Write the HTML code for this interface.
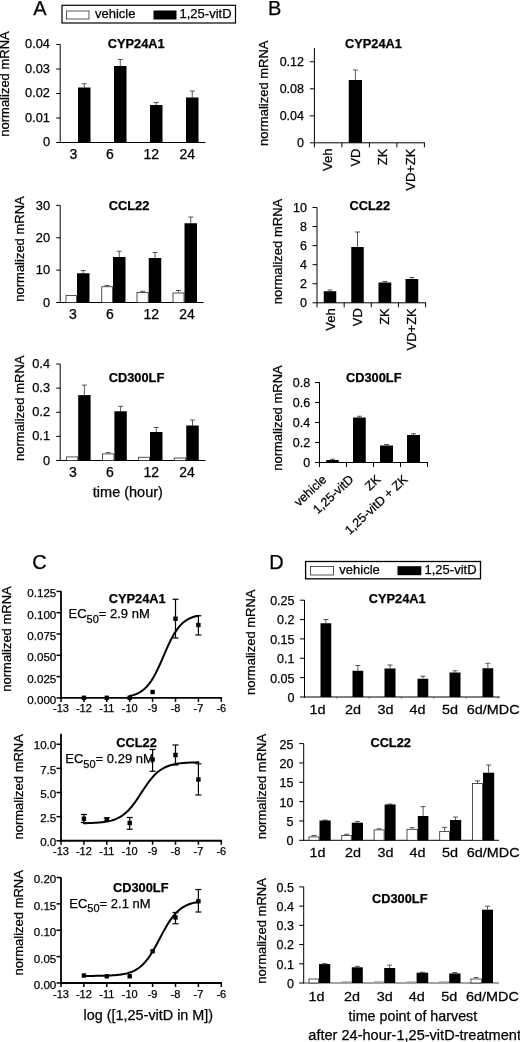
<!DOCTYPE html>
<html><head><meta charset="utf-8"><title>Figure</title>
<style>
html,body{margin:0;padding:0;background:#fff;}
body{width:520px;height:1042px;overflow:hidden;font-family:"Liberation Sans",sans-serif;}
svg{display:block;will-change:transform;}
svg text{font-family:"Liberation Sans",sans-serif;fill:#000;stroke:#000;stroke-width:0.25px;}
</style></head>
<body>
<svg width="520" height="1042" viewBox="0 0 520 1042">
<rect x="0" y="0" width="520" height="1042" fill="#fff"/>
<text x="33.3" y="14.5" font-size="20" text-anchor="start" >A</text>
<rect x="62.00" y="5.30" width="173.50" height="17.70" fill="none" stroke="#000" stroke-width="1.2"/>
<rect x="66.50" y="11.00" width="22.50" height="8.00" fill="#fff" stroke="#444" stroke-width="0.9"/>
<text x="95" y="18.2" font-size="13" text-anchor="start" >vehicle</text>
<rect x="153.50" y="10.50" width="23.00" height="9.00" fill="#000"/>
<text x="179.5" y="18.3" font-size="13" text-anchor="start" >1,25-vitD</text>
<line x1="60.2" y1="44.5" x2="60.2" y2="143.0" stroke="#000" stroke-width="1"/>
<line x1="59.7" y1="142.5" x2="205.5" y2="142.5" stroke="#000" stroke-width="1"/>
<line x1="56.2" y1="44.5" x2="60.2" y2="44.5" stroke="#000" stroke-width="1"/>
<text x="50.0" y="48.1" font-size="12.8" text-anchor="end" >0.04</text>
<line x1="56.2" y1="69.0" x2="60.2" y2="69.0" stroke="#000" stroke-width="1"/>
<text x="50.0" y="72.6" font-size="12.8" text-anchor="end" >0.03</text>
<line x1="56.2" y1="93.5" x2="60.2" y2="93.5" stroke="#000" stroke-width="1"/>
<text x="50.0" y="97.1" font-size="12.8" text-anchor="end" >0.02</text>
<line x1="56.2" y1="118.0" x2="60.2" y2="118.0" stroke="#000" stroke-width="1"/>
<text x="50.0" y="121.6" font-size="12.8" text-anchor="end" >0.01</text>
<line x1="56.2" y1="142.5" x2="60.2" y2="142.5" stroke="#000" stroke-width="1"/>
<text x="50.0" y="146.1" font-size="12.8" text-anchor="end" >0</text>
<text x="107.8" y="48.2" font-size="12.8" text-anchor="start" font-weight="bold" >CYP24A1</text>
<text x="4.8" y="84" font-size="13" text-anchor="middle" transform="rotate(-90 4.8 84)" dy="4.65">normalized mRNA</text>
<line x1="84.25" y1="83.75" x2="84.25" y2="87.5" stroke="#3a3a3a" stroke-width="0.85"/>
<line x1="81.75" y1="83.75" x2="86.75" y2="83.75" stroke="#3a3a3a" stroke-width="0.85"/>
<rect x="78.00" y="87.50" width="12.50" height="55.00" fill="#000"/>
<line x1="120.25" y1="59.5" x2="120.25" y2="66" stroke="#3a3a3a" stroke-width="0.85"/>
<line x1="117.75" y1="59.5" x2="122.75" y2="59.5" stroke="#3a3a3a" stroke-width="0.85"/>
<rect x="114.00" y="66.00" width="12.50" height="76.50" fill="#000"/>
<line x1="156.25" y1="102.5" x2="156.25" y2="105" stroke="#3a3a3a" stroke-width="0.85"/>
<line x1="153.75" y1="102.5" x2="158.75" y2="102.5" stroke="#3a3a3a" stroke-width="0.85"/>
<rect x="150.00" y="105.00" width="12.50" height="37.50" fill="#000"/>
<line x1="192.25" y1="91" x2="192.25" y2="97.5" stroke="#3a3a3a" stroke-width="0.85"/>
<line x1="189.75" y1="91" x2="194.75" y2="91" stroke="#3a3a3a" stroke-width="0.85"/>
<rect x="186.00" y="97.50" width="12.50" height="45.00" fill="#000"/>
<text x="73.5" y="158.7" font-size="14" text-anchor="middle" >3</text>
<text x="110" y="158.7" font-size="14" text-anchor="middle" >6</text>
<text x="151.3" y="158.7" font-size="14" text-anchor="middle" >12</text>
<text x="187.3" y="158.7" font-size="14" text-anchor="middle" >24</text>
<line x1="60.2" y1="205.4" x2="60.2" y2="303.0" stroke="#000" stroke-width="1"/>
<line x1="59.7" y1="302.5" x2="203.5" y2="302.5" stroke="#000" stroke-width="1"/>
<line x1="56.2" y1="205.4" x2="60.2" y2="205.4" stroke="#000" stroke-width="1"/>
<text x="50.0" y="209.70000000000002" font-size="12.8" text-anchor="end" >30</text>
<line x1="56.2" y1="237.76666666666668" x2="60.2" y2="237.76666666666668" stroke="#000" stroke-width="1"/>
<text x="50.0" y="242.0666666666667" font-size="12.8" text-anchor="end" >20</text>
<line x1="56.2" y1="270.1333333333333" x2="60.2" y2="270.1333333333333" stroke="#000" stroke-width="1"/>
<text x="50.0" y="274.43333333333334" font-size="12.8" text-anchor="end" >10</text>
<line x1="56.2" y1="302.5" x2="60.2" y2="302.5" stroke="#000" stroke-width="1"/>
<text x="50.0" y="306.8" font-size="12.8" text-anchor="end" >0</text>
<text x="108.75" y="210" font-size="12.8" text-anchor="start" font-weight="bold" >CCL22</text>
<text x="19.2" y="249" font-size="13" text-anchor="middle" transform="rotate(-90 19.2 249)" dy="4.65">normalized mRNA</text>
<rect x="66.00" y="295.50" width="10.50" height="7.00" fill="#fff" stroke="#2a2a2a" stroke-width="0.8"/>
<line x1="83.25" y1="270.5" x2="83.25" y2="273.25" stroke="#3a3a3a" stroke-width="0.85"/>
<line x1="80.75" y1="270.5" x2="85.75" y2="270.5" stroke="#3a3a3a" stroke-width="0.85"/>
<rect x="77.00" y="273.25" width="12.50" height="29.25" fill="#000"/>
<line x1="107.125" y1="285.5" x2="107.125" y2="286.25" stroke="#3a3a3a" stroke-width="0.85"/>
<line x1="104.625" y1="285.5" x2="109.625" y2="285.5" stroke="#3a3a3a" stroke-width="0.85"/>
<rect x="101.75" y="286.75" width="10.75" height="15.75" fill="#fff" stroke="#2a2a2a" stroke-width="0.8"/>
<line x1="119.25" y1="251.25" x2="119.25" y2="257" stroke="#3a3a3a" stroke-width="0.85"/>
<line x1="116.75" y1="251.25" x2="121.75" y2="251.25" stroke="#3a3a3a" stroke-width="0.85"/>
<rect x="113.00" y="257.00" width="12.50" height="45.50" fill="#000"/>
<line x1="142.625" y1="291.3" x2="142.625" y2="292" stroke="#3a3a3a" stroke-width="0.85"/>
<line x1="140.125" y1="291.3" x2="145.125" y2="291.3" stroke="#3a3a3a" stroke-width="0.85"/>
<rect x="137.00" y="292.50" width="11.25" height="10.00" fill="#fff" stroke="#2a2a2a" stroke-width="0.8"/>
<line x1="155.0" y1="252.5" x2="155.0" y2="258" stroke="#3a3a3a" stroke-width="0.85"/>
<line x1="152.5" y1="252.5" x2="157.5" y2="252.5" stroke="#3a3a3a" stroke-width="0.85"/>
<rect x="148.75" y="258.00" width="12.50" height="44.50" fill="#000"/>
<line x1="178.5" y1="290.5" x2="178.5" y2="292.5" stroke="#3a3a3a" stroke-width="0.85"/>
<line x1="176.0" y1="290.5" x2="181.0" y2="290.5" stroke="#3a3a3a" stroke-width="0.85"/>
<rect x="173.00" y="293.00" width="11.00" height="9.50" fill="#fff" stroke="#2a2a2a" stroke-width="0.8"/>
<line x1="190.75" y1="217" x2="190.75" y2="223.25" stroke="#3a3a3a" stroke-width="0.85"/>
<line x1="188.25" y1="217" x2="193.25" y2="217" stroke="#3a3a3a" stroke-width="0.85"/>
<rect x="184.50" y="223.25" width="12.50" height="79.25" fill="#000"/>
<text x="73" y="318.5" font-size="14" text-anchor="middle" >3</text>
<text x="110" y="318.5" font-size="14" text-anchor="middle" >6</text>
<text x="151.25" y="318.5" font-size="14" text-anchor="middle" >12</text>
<text x="187" y="318.5" font-size="14" text-anchor="middle" >24</text>
<line x1="60.2" y1="364" x2="60.2" y2="461.0" stroke="#000" stroke-width="1"/>
<line x1="59.7" y1="460.5" x2="205.5" y2="460.5" stroke="#000" stroke-width="1"/>
<line x1="56.2" y1="364.0" x2="60.2" y2="364.0" stroke="#000" stroke-width="1"/>
<text x="50.0" y="368.0" font-size="12.8" text-anchor="end" >0.4</text>
<line x1="56.2" y1="388.125" x2="60.2" y2="388.125" stroke="#000" stroke-width="1"/>
<text x="50.0" y="392.125" font-size="12.8" text-anchor="end" >0.3</text>
<line x1="56.2" y1="412.25" x2="60.2" y2="412.25" stroke="#000" stroke-width="1"/>
<text x="50.0" y="416.25" font-size="12.8" text-anchor="end" >0.2</text>
<line x1="56.2" y1="436.375" x2="60.2" y2="436.375" stroke="#000" stroke-width="1"/>
<text x="50.0" y="440.375" font-size="12.8" text-anchor="end" >0.1</text>
<line x1="56.2" y1="460.5" x2="60.2" y2="460.5" stroke="#000" stroke-width="1"/>
<text x="50.0" y="464.5" font-size="12.8" text-anchor="end" >0</text>
<text x="108.75" y="382" font-size="12.8" text-anchor="start" font-weight="bold" >CD300LF</text>
<text x="19.3" y="408.3" font-size="13" text-anchor="middle" transform="rotate(-90 19.3 408.3)" dy="4.65">normalized mRNA</text>
<rect x="66.60" y="456.90" width="11.10" height="3.60" fill="#fff" stroke="#2a2a2a" stroke-width="0.8"/>
<line x1="84.4" y1="385.1" x2="84.4" y2="395.1" stroke="#3a3a3a" stroke-width="0.85"/>
<line x1="81.9" y1="385.1" x2="86.9" y2="385.1" stroke="#3a3a3a" stroke-width="0.85"/>
<rect x="78.20" y="395.10" width="12.40" height="65.40" fill="#000"/>
<line x1="108.2" y1="452.6" x2="108.2" y2="453.4" stroke="#3a3a3a" stroke-width="0.85"/>
<line x1="105.7" y1="452.6" x2="110.7" y2="452.6" stroke="#3a3a3a" stroke-width="0.85"/>
<rect x="102.50" y="453.90" width="11.40" height="6.60" fill="#fff" stroke="#2a2a2a" stroke-width="0.8"/>
<line x1="120.6" y1="406.3" x2="120.6" y2="411.3" stroke="#3a3a3a" stroke-width="0.85"/>
<line x1="118.1" y1="406.3" x2="123.1" y2="406.3" stroke="#3a3a3a" stroke-width="0.85"/>
<rect x="114.40" y="411.30" width="12.40" height="49.20" fill="#000"/>
<rect x="138.50" y="457.25" width="11.00" height="3.25" fill="#fff" stroke="#2a2a2a" stroke-width="0.8"/>
<line x1="156.25" y1="427.5" x2="156.25" y2="432" stroke="#3a3a3a" stroke-width="0.85"/>
<line x1="153.75" y1="427.5" x2="158.75" y2="427.5" stroke="#3a3a3a" stroke-width="0.85"/>
<rect x="150.00" y="432.00" width="12.50" height="28.50" fill="#000"/>
<rect x="174.25" y="458.00" width="11.50" height="2.50" fill="#fff" stroke="#2a2a2a" stroke-width="0.8"/>
<line x1="192.5" y1="420" x2="192.5" y2="425.5" stroke="#3a3a3a" stroke-width="0.85"/>
<line x1="190.0" y1="420" x2="195.0" y2="420" stroke="#3a3a3a" stroke-width="0.85"/>
<rect x="186.25" y="425.50" width="12.50" height="35.00" fill="#000"/>
<text x="73" y="476.7" font-size="14" text-anchor="middle" >3</text>
<text x="110" y="476.7" font-size="14" text-anchor="middle" >6</text>
<text x="151.25" y="476.7" font-size="14" text-anchor="middle" >12</text>
<text x="187" y="476.7" font-size="14" text-anchor="middle" >24</text>
<text x="92.8" y="496.7" font-size="14.5" text-anchor="start" >time (hour)</text>
<text x="268" y="14.5" font-size="20" text-anchor="start" >B</text>
<line x1="314.4" y1="48" x2="314.4" y2="147.3" stroke="#000" stroke-width="1"/>
<line x1="309.9" y1="142.8" x2="424.9" y2="142.8" stroke="#000" stroke-width="1"/>
<line x1="309.9" y1="61.8" x2="314.4" y2="61.8" stroke="#000" stroke-width="1"/>
<text x="304.0" y="66.3" font-size="12.5" text-anchor="end" >0.12</text>
<line x1="309.9" y1="88.8" x2="314.4" y2="88.8" stroke="#000" stroke-width="1"/>
<text x="304.0" y="93.3" font-size="12.5" text-anchor="end" >0.08</text>
<line x1="309.9" y1="115.80000000000001" x2="314.4" y2="115.80000000000001" stroke="#000" stroke-width="1"/>
<text x="304.0" y="120.30000000000001" font-size="12.5" text-anchor="end" >0.04</text>
<text x="304.0" y="147.3" font-size="12.5" text-anchor="end" >0</text>
<line x1="341.9" y1="142.8" x2="341.9" y2="147.3" stroke="#000" stroke-width="1"/>
<line x1="369.4" y1="142.8" x2="369.4" y2="147.3" stroke="#000" stroke-width="1"/>
<line x1="396.9" y1="142.8" x2="396.9" y2="147.3" stroke="#000" stroke-width="1"/>
<line x1="424.4" y1="142.8" x2="424.4" y2="147.3" stroke="#000" stroke-width="1"/>
<text x="345" y="48" font-size="12.8" text-anchor="start" font-weight="bold" >CYP24A1</text>
<text x="263.5" y="93.2" font-size="13" text-anchor="middle" transform="rotate(-90 263.5 93.2)" dy="4.65">normalized mRNA</text>
<line x1="355.375" y1="70" x2="355.375" y2="80" stroke="#3a3a3a" stroke-width="0.85"/>
<line x1="352.875" y1="70" x2="357.875" y2="70" stroke="#3a3a3a" stroke-width="0.85"/>
<rect x="348.75" y="80.00" width="13.25" height="62.80" fill="#000"/>
<text x="327.45" y="148.5" font-size="13" text-anchor="end" transform="rotate(-90 327.45 148.5)" dy="4.65">Veh</text>
<text x="354.95" y="148.5" font-size="13" text-anchor="end" transform="rotate(-90 354.95 148.5)" dy="4.65">VD</text>
<text x="382.45" y="148.5" font-size="13" text-anchor="end" transform="rotate(-90 382.45 148.5)" dy="4.65">ZK</text>
<text x="409.95" y="148.5" font-size="13" text-anchor="end" transform="rotate(-90 409.95 148.5)" dy="4.65">VD+ZK</text>
<line x1="317" y1="207.5" x2="317" y2="307.3" stroke="#000" stroke-width="1"/>
<line x1="312.5" y1="302.8" x2="426.1" y2="302.8" stroke="#000" stroke-width="1"/>
<line x1="312.5" y1="207.5" x2="317" y2="207.5" stroke="#000" stroke-width="1"/>
<text x="307.0" y="212.0" font-size="12.5" text-anchor="end" >10</text>
<line x1="312.5" y1="226.56" x2="317" y2="226.56" stroke="#000" stroke-width="1"/>
<text x="307.0" y="231.06" font-size="12.5" text-anchor="end" >8</text>
<line x1="312.5" y1="245.62" x2="317" y2="245.62" stroke="#000" stroke-width="1"/>
<text x="307.0" y="250.12" font-size="12.5" text-anchor="end" >6</text>
<line x1="312.5" y1="264.68" x2="317" y2="264.68" stroke="#000" stroke-width="1"/>
<text x="307.0" y="269.18" font-size="12.5" text-anchor="end" >4</text>
<line x1="312.5" y1="283.74" x2="317" y2="283.74" stroke="#000" stroke-width="1"/>
<text x="307.0" y="288.24" font-size="12.5" text-anchor="end" >2</text>
<text x="307.0" y="307.3" font-size="12.5" text-anchor="end" >0</text>
<line x1="344.15" y1="302.8" x2="344.15" y2="307.3" stroke="#000" stroke-width="1"/>
<line x1="371.3" y1="302.8" x2="371.3" y2="307.3" stroke="#000" stroke-width="1"/>
<line x1="398.45" y1="302.8" x2="398.45" y2="307.3" stroke="#000" stroke-width="1"/>
<line x1="425.6" y1="302.8" x2="425.6" y2="307.3" stroke="#000" stroke-width="1"/>
<text x="349.5" y="210" font-size="12.8" text-anchor="start" font-weight="bold" >CCL22</text>
<text x="277.8" y="251.5" font-size="13" text-anchor="middle" transform="rotate(-90 277.8 251.5)" dy="4.65">normalized mRNA</text>
<line x1="330.0" y1="290" x2="330.0" y2="291.25" stroke="#3a3a3a" stroke-width="0.85"/>
<line x1="327.5" y1="290" x2="332.5" y2="290" stroke="#3a3a3a" stroke-width="0.85"/>
<rect x="323.75" y="291.25" width="12.50" height="11.55" fill="#000"/>
<line x1="357.5" y1="232" x2="357.5" y2="247" stroke="#3a3a3a" stroke-width="0.85"/>
<line x1="355.0" y1="232" x2="360.0" y2="232" stroke="#3a3a3a" stroke-width="0.85"/>
<rect x="351.25" y="247.00" width="12.50" height="55.80" fill="#000"/>
<line x1="384.875" y1="281.5" x2="384.875" y2="282.5" stroke="#3a3a3a" stroke-width="0.85"/>
<line x1="382.375" y1="281.5" x2="387.375" y2="281.5" stroke="#3a3a3a" stroke-width="0.85"/>
<rect x="378.50" y="282.50" width="12.75" height="20.30" fill="#000"/>
<line x1="411.875" y1="277.5" x2="411.875" y2="279" stroke="#3a3a3a" stroke-width="0.85"/>
<line x1="409.375" y1="277.5" x2="414.375" y2="277.5" stroke="#3a3a3a" stroke-width="0.85"/>
<rect x="405.50" y="279.00" width="12.75" height="23.80" fill="#000"/>
<text x="330.27" y="308.2" font-size="13" text-anchor="end" transform="rotate(-90 330.27 308.2)" dy="4.65">Veh</text>
<text x="357.43" y="308.2" font-size="13" text-anchor="end" transform="rotate(-90 357.43 308.2)" dy="4.65">VD</text>
<text x="384.57" y="308.2" font-size="13" text-anchor="end" transform="rotate(-90 384.57 308.2)" dy="4.65">ZK</text>
<text x="411.72" y="308.2" font-size="13" text-anchor="end" transform="rotate(-90 411.72 308.2)" dy="4.65">VD+ZK</text>
<line x1="319.5" y1="382" x2="319.5" y2="467.0" stroke="#000" stroke-width="1"/>
<line x1="315.0" y1="462.5" x2="428.0" y2="462.5" stroke="#000" stroke-width="1"/>
<line x1="315.0" y1="382.5" x2="319.5" y2="382.5" stroke="#000" stroke-width="1"/>
<text x="310.2" y="387.0" font-size="12.5" text-anchor="end" >0.8</text>
<line x1="315.0" y1="402.5" x2="319.5" y2="402.5" stroke="#000" stroke-width="1"/>
<text x="310.2" y="407.0" font-size="12.5" text-anchor="end" >0.6</text>
<line x1="315.0" y1="422.5" x2="319.5" y2="422.5" stroke="#000" stroke-width="1"/>
<text x="310.2" y="427.0" font-size="12.5" text-anchor="end" >0.4</text>
<line x1="315.0" y1="442.5" x2="319.5" y2="442.5" stroke="#000" stroke-width="1"/>
<text x="310.2" y="447.0" font-size="12.5" text-anchor="end" >0.2</text>
<text x="310.2" y="467.0" font-size="12.5" text-anchor="end" >0</text>
<line x1="346.5" y1="462.5" x2="346.5" y2="467.0" stroke="#000" stroke-width="1"/>
<line x1="373.5" y1="462.5" x2="373.5" y2="467.0" stroke="#000" stroke-width="1"/>
<line x1="400.5" y1="462.5" x2="400.5" y2="467.0" stroke="#000" stroke-width="1"/>
<line x1="427.5" y1="462.5" x2="427.5" y2="467.0" stroke="#000" stroke-width="1"/>
<text x="346" y="381.5" font-size="12.8" text-anchor="start" font-weight="bold" >CD300LF</text>
<text x="277.4" y="418" font-size="13" text-anchor="middle" transform="rotate(-90 277.4 418)" dy="4.65">normalized mRNA</text>
<line x1="332.5" y1="459.2" x2="332.5" y2="460" stroke="#3a3a3a" stroke-width="0.85"/>
<line x1="330.0" y1="459.2" x2="335.0" y2="459.2" stroke="#3a3a3a" stroke-width="0.85"/>
<rect x="326.25" y="460.00" width="12.50" height="2.50" fill="#000"/>
<line x1="359.375" y1="416.25" x2="359.375" y2="417.5" stroke="#3a3a3a" stroke-width="0.85"/>
<line x1="356.875" y1="416.25" x2="361.875" y2="416.25" stroke="#3a3a3a" stroke-width="0.85"/>
<rect x="353.00" y="417.50" width="12.75" height="45.00" fill="#000"/>
<line x1="386.5" y1="444.5" x2="386.5" y2="445.5" stroke="#3a3a3a" stroke-width="0.85"/>
<line x1="384.0" y1="444.5" x2="389.0" y2="444.5" stroke="#3a3a3a" stroke-width="0.85"/>
<rect x="380.00" y="445.50" width="13.00" height="17.00" fill="#000"/>
<line x1="413.5" y1="433.75" x2="413.5" y2="435" stroke="#3a3a3a" stroke-width="0.85"/>
<line x1="411.0" y1="433.75" x2="416.0" y2="433.75" stroke="#3a3a3a" stroke-width="0.85"/>
<rect x="407.00" y="435.00" width="13.00" height="27.50" fill="#000"/>
<text x="324.20" y="477" font-size="12.5" text-anchor="end" transform="rotate(-43 324.20 477)" dy="4.65">vehicle</text>
<text x="351.20" y="477" font-size="12.5" text-anchor="end" transform="rotate(-43 351.20 477)" dy="4.65">1,25-vitD</text>
<text x="378.20" y="477" font-size="12.5" text-anchor="end" transform="rotate(-43 378.20 477)" dy="4.65">ZK</text>
<text x="405.20" y="477" font-size="12.5" text-anchor="end" transform="rotate(-43 405.20 477)" dy="4.65">1,25-vitD + ZK</text>
<text x="32.3" y="569.3" font-size="20" text-anchor="start" >C</text>
<line x1="61.0" y1="591" x2="61.0" y2="698.6999999999999" stroke="#000" stroke-width="1.8"/>
<line x1="60.1" y1="697.9" x2="221.99999999999997" y2="697.9" stroke="#000" stroke-width="1.8"/>
<line x1="56.5" y1="591.4" x2="61.0" y2="591.4" stroke="#000" stroke-width="1.5"/>
<text x="56.3" y="597.3" font-size="11.6" text-anchor="end" >0.125</text>
<line x1="56.5" y1="612.6999999999999" x2="61.0" y2="612.6999999999999" stroke="#000" stroke-width="1.5"/>
<text x="56.3" y="618.5999999999999" font-size="11.6" text-anchor="end" >0.100</text>
<line x1="56.5" y1="634.0" x2="61.0" y2="634.0" stroke="#000" stroke-width="1.5"/>
<text x="56.3" y="639.9" font-size="11.6" text-anchor="end" >0.075</text>
<line x1="56.5" y1="655.3" x2="61.0" y2="655.3" stroke="#000" stroke-width="1.5"/>
<text x="56.3" y="661.1999999999999" font-size="11.6" text-anchor="end" >0.050</text>
<line x1="56.5" y1="676.6" x2="61.0" y2="676.6" stroke="#000" stroke-width="1.5"/>
<text x="56.3" y="682.5" font-size="11.6" text-anchor="end" >0.025</text>
<line x1="56.5" y1="697.9" x2="61.0" y2="697.9" stroke="#000" stroke-width="1.5"/>
<text x="56.3" y="703.8" font-size="11.6" text-anchor="end" >0.000</text>
<line x1="61.0" y1="697.9" x2="61.0" y2="701.9" stroke="#000" stroke-width="1.5"/>
<text x="61.0" y="712" font-size="11" text-anchor="middle" >-13</text>
<line x1="83.9" y1="697.9" x2="83.9" y2="701.9" stroke="#000" stroke-width="1.5"/>
<text x="83.9" y="712" font-size="11" text-anchor="middle" >-12</text>
<line x1="106.8" y1="697.9" x2="106.8" y2="701.9" stroke="#000" stroke-width="1.5"/>
<text x="106.8" y="712" font-size="11" text-anchor="middle" >-11</text>
<line x1="129.7" y1="697.9" x2="129.7" y2="701.9" stroke="#000" stroke-width="1.5"/>
<text x="129.7" y="712" font-size="11" text-anchor="middle" >-10</text>
<line x1="152.6" y1="697.9" x2="152.6" y2="701.9" stroke="#000" stroke-width="1.5"/>
<text x="152.6" y="712" font-size="11" text-anchor="middle" >-9</text>
<line x1="175.5" y1="697.9" x2="175.5" y2="701.9" stroke="#000" stroke-width="1.5"/>
<text x="175.5" y="712" font-size="11" text-anchor="middle" >-8</text>
<line x1="198.39999999999998" y1="697.9" x2="198.39999999999998" y2="701.9" stroke="#000" stroke-width="1.5"/>
<text x="198.39999999999998" y="712" font-size="11" text-anchor="middle" >-7</text>
<line x1="221.29999999999998" y1="697.9" x2="221.29999999999998" y2="701.9" stroke="#000" stroke-width="1.5"/>
<text x="221.29999999999998" y="712" font-size="11" text-anchor="middle" >-6</text>
<text x="108.75" y="603" font-size="12.8" text-anchor="start" font-weight="bold" >CYP24A1</text>
<text x="6.0" y="639" font-size="13" text-anchor="middle" transform="rotate(-90 6.0 639)" dy="4.65">normalized mRNA</text>
<text x="68.5" y="618" font-size="13">EC<tspan font-size="11" dy="4.5">50</tspan><tspan dy="-4.5">= 2.9 nM</tspan></text>
<polyline points="129.70,695.97 130.56,695.78 131.42,695.58 132.28,695.35 133.13,695.11 133.99,694.84 134.85,694.55 135.71,694.23 136.57,693.88 137.43,693.50 138.29,693.08 139.15,692.63 140.00,692.15 140.86,691.61 141.72,691.04 142.58,690.42 143.44,689.74 144.30,689.02 145.16,688.23 146.02,687.39 146.88,686.49 147.73,685.52 148.59,684.48 149.45,683.38 150.31,682.20 151.17,680.95 152.03,679.63 152.89,678.24 153.75,676.77 154.60,675.23 155.46,673.63 156.32,671.96 157.18,670.22 158.04,668.44 158.90,666.59 159.76,664.71 160.61,662.79 161.47,660.83 162.33,658.86 163.19,656.87 164.05,654.88 164.91,652.89 165.77,650.91 166.63,648.96 167.49,647.04 168.34,645.16 169.20,643.32 170.06,641.54 170.92,639.81 171.78,638.14 172.64,636.54 173.50,635.01 174.35,633.55 175.21,632.16 176.07,630.84 176.93,629.60 177.79,628.43 178.65,627.33 179.51,626.29 180.37,625.33 181.22,624.43 182.08,623.59 182.94,622.81 183.80,622.09 184.66,621.42 185.52,620.80 186.38,620.23 187.24,619.70 188.09,619.21 188.95,618.77 189.81,618.35 190.67,617.98 191.53,617.63 192.39,617.31 193.25,617.02 194.11,616.75 194.96,616.51 195.82,616.29 196.68,616.08 197.54,615.90 198.40,615.73" fill="none" stroke="#000" stroke-width="2" stroke-linejoin="round" stroke-linecap="round"/>
<rect x="81.70" y="695.60" width="4.40" height="4.40" fill="#000"/>
<rect x="104.60" y="695.60" width="4.40" height="4.40" fill="#000"/>
<rect x="127.50" y="695.60" width="4.40" height="4.40" fill="#000"/>
<rect x="150.40" y="689.80" width="4.40" height="4.40" fill="#000"/>
<line x1="175.5" y1="599.25" x2="175.5" y2="638" stroke="#000" stroke-width="1.2"/>
<line x1="172.5" y1="599.25" x2="178.5" y2="599.25" stroke="#000" stroke-width="1.2"/>
<line x1="172.5" y1="638" x2="178.5" y2="638" stroke="#000" stroke-width="1.2"/>
<rect x="173.30" y="616.55" width="4.40" height="4.40" fill="#000"/>
<line x1="198.39999999999998" y1="615.75" x2="198.39999999999998" y2="635" stroke="#000" stroke-width="1.2"/>
<line x1="195.39999999999998" y1="615.75" x2="201.39999999999998" y2="615.75" stroke="#000" stroke-width="1.2"/>
<line x1="195.39999999999998" y1="635" x2="201.39999999999998" y2="635" stroke="#000" stroke-width="1.2"/>
<rect x="196.20" y="622.80" width="4.40" height="4.40" fill="#000"/>
<line x1="61.0" y1="733.75" x2="61.0" y2="841.55" stroke="#000" stroke-width="1.8"/>
<line x1="60.1" y1="840.75" x2="221.99999999999997" y2="840.75" stroke="#000" stroke-width="1.8"/>
<line x1="56.5" y1="744.25" x2="61.0" y2="744.25" stroke="#000" stroke-width="1.5"/>
<text x="56.3" y="749.45" font-size="11.6" text-anchor="end" >10.0</text>
<line x1="56.5" y1="768.375" x2="61.0" y2="768.375" stroke="#000" stroke-width="1.5"/>
<text x="56.3" y="773.575" font-size="11.6" text-anchor="end" >7.5</text>
<line x1="56.5" y1="792.5" x2="61.0" y2="792.5" stroke="#000" stroke-width="1.5"/>
<text x="56.3" y="797.7" font-size="11.6" text-anchor="end" >5.0</text>
<line x1="56.5" y1="816.625" x2="61.0" y2="816.625" stroke="#000" stroke-width="1.5"/>
<text x="56.3" y="821.825" font-size="11.6" text-anchor="end" >2.5</text>
<line x1="56.5" y1="840.75" x2="61.0" y2="840.75" stroke="#000" stroke-width="1.5"/>
<text x="56.3" y="845.95" font-size="11.6" text-anchor="end" >0.0</text>
<line x1="61.0" y1="840.75" x2="61.0" y2="844.75" stroke="#000" stroke-width="1.5"/>
<text x="61.0" y="855.3" font-size="11" text-anchor="middle" >-13</text>
<line x1="83.9" y1="840.75" x2="83.9" y2="844.75" stroke="#000" stroke-width="1.5"/>
<text x="83.9" y="855.3" font-size="11" text-anchor="middle" >-12</text>
<line x1="106.8" y1="840.75" x2="106.8" y2="844.75" stroke="#000" stroke-width="1.5"/>
<text x="106.8" y="855.3" font-size="11" text-anchor="middle" >-11</text>
<line x1="129.7" y1="840.75" x2="129.7" y2="844.75" stroke="#000" stroke-width="1.5"/>
<text x="129.7" y="855.3" font-size="11" text-anchor="middle" >-10</text>
<line x1="152.6" y1="840.75" x2="152.6" y2="844.75" stroke="#000" stroke-width="1.5"/>
<text x="152.6" y="855.3" font-size="11" text-anchor="middle" >-9</text>
<line x1="175.5" y1="840.75" x2="175.5" y2="844.75" stroke="#000" stroke-width="1.5"/>
<text x="175.5" y="855.3" font-size="11" text-anchor="middle" >-8</text>
<line x1="198.39999999999998" y1="840.75" x2="198.39999999999998" y2="844.75" stroke="#000" stroke-width="1.5"/>
<text x="198.39999999999998" y="855.3" font-size="11" text-anchor="middle" >-7</text>
<line x1="221.29999999999998" y1="840.75" x2="221.29999999999998" y2="844.75" stroke="#000" stroke-width="1.5"/>
<text x="221.29999999999998" y="855.3" font-size="11" text-anchor="middle" >-6</text>
<text x="116.25" y="747.3" font-size="12.8" text-anchor="start" font-weight="bold" >CCL22</text>
<text x="18.1" y="786.8" font-size="13" text-anchor="middle" transform="rotate(-90 18.1 786.8)" dy="4.65">normalized mRNA</text>
<text x="65.3" y="763" font-size="13">EC<tspan font-size="11" dy="4.5">50</tspan><tspan dy="-4.5">= 0.29 nM</tspan></text>
<polyline points="83.90,823.19 85.33,823.17 86.76,823.13 88.19,823.09 89.62,823.05 91.06,823.00 92.49,822.94 93.92,822.87 95.35,822.79 96.78,822.70 98.21,822.60 99.64,822.48 101.07,822.34 102.51,822.18 103.94,822.00 105.37,821.79 106.80,821.55 108.23,821.27 109.66,820.96 111.09,820.60 112.53,820.19 113.96,819.73 115.39,819.20 116.82,818.60 118.25,817.93 119.68,817.17 121.11,816.32 122.54,815.37 123.97,814.31 125.41,813.14 126.84,811.86 128.27,810.45 129.70,808.92 131.13,807.27 132.56,805.50 133.99,803.63 135.43,801.66 136.86,799.60 138.29,797.47 139.72,795.30 141.15,793.10 142.58,790.90 144.01,788.72 145.44,786.58 146.88,784.50 148.31,782.49 149.74,780.59 151.17,778.78 152.60,777.10 154.03,775.53 155.46,774.08 156.89,772.76 158.32,771.55 159.76,770.46 161.19,769.48 162.62,768.59 164.05,767.81 165.48,767.11 166.91,766.48 168.34,765.94 169.77,765.45 171.21,765.03 172.64,764.65 174.07,764.33 175.50,764.04 176.93,763.79 178.36,763.57 179.79,763.38 181.22,763.21 182.66,763.07 184.09,762.94 185.52,762.83 186.95,762.74 188.38,762.66 189.81,762.59 191.24,762.52 192.67,762.47 194.11,762.42 195.54,762.38 196.97,762.35 198.40,762.32" fill="none" stroke="#000" stroke-width="2" stroke-linejoin="round" stroke-linecap="round"/>
<line x1="83.9" y1="814.5" x2="83.9" y2="822.5" stroke="#000" stroke-width="1.2"/>
<line x1="80.9" y1="814.5" x2="86.9" y2="814.5" stroke="#000" stroke-width="1.2"/>
<line x1="80.9" y1="822.5" x2="86.9" y2="822.5" stroke="#000" stroke-width="1.2"/>
<rect x="81.70" y="816.55" width="4.40" height="4.40" fill="#000"/>
<line x1="106.8" y1="817.8" x2="106.8" y2="821.2" stroke="#000" stroke-width="1.2"/>
<line x1="103.8" y1="817.8" x2="109.8" y2="817.8" stroke="#000" stroke-width="1.2"/>
<line x1="103.8" y1="821.2" x2="109.8" y2="821.2" stroke="#000" stroke-width="1.2"/>
<rect x="104.60" y="817.30" width="4.40" height="4.40" fill="#000"/>
<line x1="129.7" y1="817.5" x2="129.7" y2="829.25" stroke="#000" stroke-width="1.2"/>
<line x1="126.69999999999999" y1="817.5" x2="132.7" y2="817.5" stroke="#000" stroke-width="1.2"/>
<line x1="126.69999999999999" y1="829.25" x2="132.7" y2="829.25" stroke="#000" stroke-width="1.2"/>
<rect x="127.50" y="820.80" width="4.40" height="4.40" fill="#000"/>
<line x1="152.6" y1="749.5" x2="152.6" y2="771.25" stroke="#000" stroke-width="1.2"/>
<line x1="149.6" y1="749.5" x2="155.6" y2="749.5" stroke="#000" stroke-width="1.2"/>
<line x1="149.6" y1="771.25" x2="155.6" y2="771.25" stroke="#000" stroke-width="1.2"/>
<rect x="150.40" y="757.30" width="4.40" height="4.40" fill="#000"/>
<line x1="175.5" y1="745" x2="175.5" y2="765" stroke="#000" stroke-width="1.2"/>
<line x1="172.5" y1="745" x2="178.5" y2="745" stroke="#000" stroke-width="1.2"/>
<line x1="172.5" y1="765" x2="178.5" y2="765" stroke="#000" stroke-width="1.2"/>
<rect x="173.30" y="752.80" width="4.40" height="4.40" fill="#000"/>
<line x1="198.39999999999998" y1="763.75" x2="198.39999999999998" y2="795" stroke="#000" stroke-width="1.2"/>
<line x1="195.39999999999998" y1="763.75" x2="201.39999999999998" y2="763.75" stroke="#000" stroke-width="1.2"/>
<line x1="195.39999999999998" y1="795" x2="201.39999999999998" y2="795" stroke="#000" stroke-width="1.2"/>
<rect x="196.20" y="777.30" width="4.40" height="4.40" fill="#000"/>
<line x1="61.0" y1="877.5" x2="61.0" y2="983.8" stroke="#000" stroke-width="1.8"/>
<line x1="60.1" y1="983" x2="221.99999999999997" y2="983" stroke="#000" stroke-width="1.8"/>
<line x1="56.5" y1="877.5" x2="61.0" y2="877.5" stroke="#000" stroke-width="1.5"/>
<text x="56.3" y="883.4" font-size="11.6" text-anchor="end" >0.20</text>
<line x1="56.5" y1="903.875" x2="61.0" y2="903.875" stroke="#000" stroke-width="1.5"/>
<text x="56.3" y="909.775" font-size="11.6" text-anchor="end" >0.15</text>
<line x1="56.5" y1="930.25" x2="61.0" y2="930.25" stroke="#000" stroke-width="1.5"/>
<text x="56.3" y="936.15" font-size="11.6" text-anchor="end" >0.10</text>
<line x1="56.5" y1="956.625" x2="61.0" y2="956.625" stroke="#000" stroke-width="1.5"/>
<text x="56.3" y="962.525" font-size="11.6" text-anchor="end" >0.05</text>
<line x1="56.5" y1="983.0" x2="61.0" y2="983.0" stroke="#000" stroke-width="1.5"/>
<text x="56.3" y="988.9" font-size="11.6" text-anchor="end" >0.00</text>
<line x1="61.0" y1="983" x2="61.0" y2="987" stroke="#000" stroke-width="1.5"/>
<text x="61.0" y="998" font-size="11" text-anchor="middle" >-13</text>
<line x1="83.9" y1="983" x2="83.9" y2="987" stroke="#000" stroke-width="1.5"/>
<text x="83.9" y="998" font-size="11" text-anchor="middle" >-12</text>
<line x1="106.8" y1="983" x2="106.8" y2="987" stroke="#000" stroke-width="1.5"/>
<text x="106.8" y="998" font-size="11" text-anchor="middle" >-11</text>
<line x1="129.7" y1="983" x2="129.7" y2="987" stroke="#000" stroke-width="1.5"/>
<text x="129.7" y="998" font-size="11" text-anchor="middle" >-10</text>
<line x1="152.6" y1="983" x2="152.6" y2="987" stroke="#000" stroke-width="1.5"/>
<text x="152.6" y="998" font-size="11" text-anchor="middle" >-9</text>
<line x1="175.5" y1="983" x2="175.5" y2="987" stroke="#000" stroke-width="1.5"/>
<text x="175.5" y="998" font-size="11" text-anchor="middle" >-8</text>
<line x1="198.39999999999998" y1="983" x2="198.39999999999998" y2="987" stroke="#000" stroke-width="1.5"/>
<text x="198.39999999999998" y="998" font-size="11" text-anchor="middle" >-7</text>
<line x1="221.29999999999998" y1="983" x2="221.29999999999998" y2="987" stroke="#000" stroke-width="1.5"/>
<text x="221.29999999999998" y="998" font-size="11" text-anchor="middle" >-6</text>
<text x="113" y="892" font-size="12.8" text-anchor="start" font-weight="bold" >CD300LF</text>
<text x="18.1" y="922.8" font-size="13" text-anchor="middle" transform="rotate(-90 18.1 922.8)" dy="4.65">normalized mRNA</text>
<text x="69.3" y="907.5" font-size="13">EC<tspan font-size="11" dy="4.5">50</tspan><tspan dy="-4.5">= 2.1 nM</tspan></text>
<polyline points="83.90,975.95 85.33,975.94 86.76,975.94 88.19,975.93 89.62,975.92 91.06,975.91 92.49,975.90 93.92,975.89 95.35,975.87 96.78,975.85 98.21,975.83 99.64,975.81 101.07,975.78 102.51,975.75 103.94,975.72 105.37,975.67 106.80,975.63 108.23,975.57 109.66,975.51 111.09,975.43 112.53,975.35 113.96,975.25 115.39,975.14 116.82,975.01 118.25,974.86 119.68,974.69 121.11,974.49 122.54,974.26 123.97,974.00 125.41,973.71 126.84,973.37 128.27,972.98 129.70,972.53 131.13,972.03 132.56,971.45 133.99,970.80 135.43,970.06 136.86,969.22 138.29,968.28 139.72,967.23 141.15,966.05 142.58,964.74 144.01,963.29 145.44,961.70 146.88,959.96 148.31,958.07 149.74,956.02 151.17,953.84 152.60,951.52 154.03,949.08 155.46,946.54 156.89,943.92 158.32,941.24 159.76,938.52 161.19,935.81 162.62,933.12 164.05,930.48 165.48,927.91 166.91,925.45 168.34,923.10 169.77,920.88 171.21,918.81 172.64,916.88 174.07,915.10 175.50,913.47 176.93,911.99 178.36,910.65 179.79,909.44 181.22,908.36 182.66,907.39 184.09,906.53 185.52,905.77 186.95,905.09 188.38,904.50 189.81,903.98 191.24,903.52 192.67,903.12 194.11,902.76 195.54,902.46 196.97,902.19 198.40,901.96" fill="none" stroke="#000" stroke-width="2" stroke-linejoin="round" stroke-linecap="round"/>
<rect x="81.70" y="973.30" width="4.40" height="4.40" fill="#000"/>
<rect x="104.60" y="974.05" width="4.40" height="4.40" fill="#000"/>
<rect x="127.50" y="974.05" width="4.40" height="4.40" fill="#000"/>
<rect x="150.40" y="949.05" width="4.40" height="4.40" fill="#000"/>
<line x1="175.5" y1="912.5" x2="175.5" y2="923.75" stroke="#000" stroke-width="1.2"/>
<line x1="172.5" y1="912.5" x2="178.5" y2="912.5" stroke="#000" stroke-width="1.2"/>
<line x1="172.5" y1="923.75" x2="178.5" y2="923.75" stroke="#000" stroke-width="1.2"/>
<rect x="173.30" y="915.30" width="4.40" height="4.40" fill="#000"/>
<line x1="198.39999999999998" y1="889.5" x2="198.39999999999998" y2="912" stroke="#000" stroke-width="1.2"/>
<line x1="195.39999999999998" y1="889.5" x2="201.39999999999998" y2="889.5" stroke="#000" stroke-width="1.2"/>
<line x1="195.39999999999998" y1="912" x2="201.39999999999998" y2="912" stroke="#000" stroke-width="1.2"/>
<rect x="196.20" y="899.05" width="4.40" height="4.40" fill="#000"/>
<text x="83.6" y="1020.1" font-size="14.4" text-anchor="start" >log ([1,25-vitD in M])</text>
<text x="269.3" y="569.3" font-size="20" text-anchor="start" >D</text>
<rect x="305.60" y="561.50" width="174.90" height="17.30" fill="none" stroke="#000" stroke-width="1.3"/>
<rect x="310.50" y="566.50" width="23.00" height="8.50" fill="#fff" stroke="#444" stroke-width="0.9"/>
<text x="339.3" y="573.9" font-size="13" text-anchor="start" >vehicle</text>
<rect x="397.50" y="566.20" width="23.80" height="9.00" fill="#000"/>
<text x="424.5" y="574.1" font-size="13" text-anchor="start" >1,25-vitD</text>
<line x1="304.5" y1="600.2" x2="304.5" y2="697.5" stroke="#000" stroke-width="1"/>
<line x1="304.0" y1="697" x2="499.79999999999995" y2="697" stroke="#000" stroke-width="1"/>
<line x1="336.8" y1="697" x2="336.8" y2="698.6" stroke="#555" stroke-width="1"/>
<line x1="369.1" y1="697" x2="369.1" y2="698.6" stroke="#555" stroke-width="1"/>
<line x1="401.4" y1="697" x2="401.4" y2="698.6" stroke="#555" stroke-width="1"/>
<line x1="433.7" y1="697" x2="433.7" y2="698.6" stroke="#555" stroke-width="1"/>
<line x1="466.0" y1="697" x2="466.0" y2="698.6" stroke="#555" stroke-width="1"/>
<line x1="498.29999999999995" y1="697" x2="498.29999999999995" y2="698.6" stroke="#555" stroke-width="1"/>
<line x1="300.0" y1="600.2" x2="304.5" y2="600.2" stroke="#000" stroke-width="1"/>
<text x="294.5" y="605.1" font-size="12.5" text-anchor="end" >0.25</text>
<line x1="300.0" y1="619.5600000000001" x2="304.5" y2="619.5600000000001" stroke="#000" stroke-width="1"/>
<text x="294.5" y="624.46" font-size="12.5" text-anchor="end" >0.2</text>
<line x1="300.0" y1="638.9200000000001" x2="304.5" y2="638.9200000000001" stroke="#000" stroke-width="1"/>
<text x="294.5" y="643.82" font-size="12.5" text-anchor="end" >0.15</text>
<line x1="300.0" y1="658.28" x2="304.5" y2="658.28" stroke="#000" stroke-width="1"/>
<text x="294.5" y="663.18" font-size="12.5" text-anchor="end" >0.1</text>
<line x1="300.0" y1="677.64" x2="304.5" y2="677.64" stroke="#000" stroke-width="1"/>
<text x="294.5" y="682.54" font-size="12.5" text-anchor="end" >0.05</text>
<line x1="300.0" y1="697.0" x2="304.5" y2="697.0" stroke="#000" stroke-width="1"/>
<text x="294.5" y="701.9" font-size="12.5" text-anchor="end" >0</text>
<text x="368.75" y="603" font-size="12.8" text-anchor="start" font-weight="bold" >CYP24A1</text>
<text x="250.8" y="642.2" font-size="13" text-anchor="middle" transform="rotate(-90 250.8 642.2)" dy="4.65">normalized mRNA</text>
<line x1="325.875" y1="619.5" x2="325.875" y2="623.25" stroke="#3a3a3a" stroke-width="0.85"/>
<line x1="323.375" y1="619.5" x2="328.375" y2="619.5" stroke="#3a3a3a" stroke-width="0.85"/>
<rect x="320.50" y="623.25" width="10.75" height="73.75" fill="#000"/>
<line x1="357.875" y1="665.5" x2="357.875" y2="670.75" stroke="#3a3a3a" stroke-width="0.85"/>
<line x1="355.375" y1="665.5" x2="360.375" y2="665.5" stroke="#3a3a3a" stroke-width="0.85"/>
<rect x="352.50" y="670.75" width="10.75" height="26.25" fill="#000"/>
<line x1="390.0" y1="665" x2="390.0" y2="668.5" stroke="#3a3a3a" stroke-width="0.85"/>
<line x1="387.5" y1="665" x2="392.5" y2="665" stroke="#3a3a3a" stroke-width="0.85"/>
<rect x="384.50" y="668.50" width="11.00" height="28.50" fill="#000"/>
<line x1="422.875" y1="676.25" x2="422.875" y2="678.75" stroke="#3a3a3a" stroke-width="0.85"/>
<line x1="420.375" y1="676.25" x2="425.375" y2="676.25" stroke="#3a3a3a" stroke-width="0.85"/>
<rect x="417.50" y="678.75" width="10.75" height="18.25" fill="#000"/>
<line x1="455.0" y1="670.75" x2="455.0" y2="672.5" stroke="#3a3a3a" stroke-width="0.85"/>
<line x1="452.5" y1="670.75" x2="457.5" y2="670.75" stroke="#3a3a3a" stroke-width="0.85"/>
<rect x="449.50" y="672.50" width="11.00" height="24.50" fill="#000"/>
<line x1="487.875" y1="663.25" x2="487.875" y2="668.25" stroke="#3a3a3a" stroke-width="0.85"/>
<line x1="485.375" y1="663.25" x2="490.375" y2="663.25" stroke="#3a3a3a" stroke-width="0.85"/>
<rect x="482.50" y="668.25" width="10.75" height="28.75" fill="#000"/>
<text x="0" y="0" font-size="13.6" text-anchor="middle" transform="translate(317.5 713.8) scale(1.06 1)" >1d</text>
<text x="0" y="0" font-size="13.6" text-anchor="middle" transform="translate(353 713.8) scale(1.06 1)" >2d</text>
<text x="0" y="0" font-size="13.6" text-anchor="middle" transform="translate(385.5 713.8) scale(1.06 1)" >3d</text>
<text x="0" y="0" font-size="13.6" text-anchor="middle" transform="translate(417.5 713.8) scale(1.06 1)" >4d</text>
<text x="0" y="0" font-size="13.6" text-anchor="middle" transform="translate(450 713.8) scale(1.06 1)" >5d</text>
<text x="0" y="0" font-size="13.6" text-anchor="start" transform="translate(466.8 713.8) scale(1.06 1)" >6d/MDC</text>
<line x1="303.7" y1="743.6" x2="303.7" y2="840.8" stroke="#000" stroke-width="1"/>
<line x1="303.2" y1="840.3" x2="499.0" y2="840.3" stroke="#000" stroke-width="1"/>
<line x1="299.2" y1="743.6" x2="303.7" y2="743.6" stroke="#000" stroke-width="1"/>
<text x="293.5" y="748.5" font-size="12.5" text-anchor="end" >25</text>
<line x1="299.2" y1="762.94" x2="303.7" y2="762.94" stroke="#000" stroke-width="1"/>
<text x="293.5" y="767.84" font-size="12.5" text-anchor="end" >20</text>
<line x1="299.2" y1="782.28" x2="303.7" y2="782.28" stroke="#000" stroke-width="1"/>
<text x="293.5" y="787.18" font-size="12.5" text-anchor="end" >15</text>
<line x1="299.2" y1="801.62" x2="303.7" y2="801.62" stroke="#000" stroke-width="1"/>
<text x="293.5" y="806.52" font-size="12.5" text-anchor="end" >10</text>
<line x1="299.2" y1="820.9599999999999" x2="303.7" y2="820.9599999999999" stroke="#000" stroke-width="1"/>
<text x="293.5" y="825.8599999999999" font-size="12.5" text-anchor="end" >5</text>
<line x1="299.2" y1="840.3" x2="303.7" y2="840.3" stroke="#000" stroke-width="1"/>
<text x="293.5" y="845.1999999999999" font-size="12.5" text-anchor="end" >0</text>
<text x="370.4" y="747.3" font-size="12.8" text-anchor="start" font-weight="bold" >CCL22</text>
<text x="261.2" y="786.6" font-size="13" text-anchor="middle" transform="rotate(-90 261.2 786.6)" dy="4.65">normalized mRNA</text>
<line x1="314.0" y1="835.5" x2="314.0" y2="836.4" stroke="#3a3a3a" stroke-width="0.85"/>
<line x1="311.5" y1="835.5" x2="316.5" y2="835.5" stroke="#3a3a3a" stroke-width="0.85"/>
<rect x="309.00" y="836.90" width="10.00" height="3.40" fill="#fff" stroke="#2a2a2a" stroke-width="0.8"/>
<line x1="325.1" y1="820" x2="325.1" y2="820.5" stroke="#3a3a3a" stroke-width="0.85"/>
<line x1="322.6" y1="820" x2="327.6" y2="820" stroke="#3a3a3a" stroke-width="0.85"/>
<rect x="319.50" y="820.50" width="11.20" height="19.80" fill="#000"/>
<line x1="346.525" y1="834.3" x2="346.525" y2="835.1" stroke="#3a3a3a" stroke-width="0.85"/>
<line x1="344.025" y1="834.3" x2="349.025" y2="834.3" stroke="#3a3a3a" stroke-width="0.85"/>
<rect x="341.75" y="835.60" width="9.55" height="4.70" fill="#fff" stroke="#2a2a2a" stroke-width="0.8"/>
<line x1="357.4" y1="821.4" x2="357.4" y2="822.7" stroke="#3a3a3a" stroke-width="0.85"/>
<line x1="354.9" y1="821.4" x2="359.9" y2="821.4" stroke="#3a3a3a" stroke-width="0.85"/>
<rect x="351.80" y="822.70" width="11.20" height="17.60" fill="#000"/>
<line x1="379.1" y1="828.8" x2="379.1" y2="829.4" stroke="#3a3a3a" stroke-width="0.85"/>
<line x1="376.6" y1="828.8" x2="381.6" y2="828.8" stroke="#3a3a3a" stroke-width="0.85"/>
<rect x="374.10" y="829.90" width="10.00" height="10.40" fill="#fff" stroke="#2a2a2a" stroke-width="0.8"/>
<line x1="390.1" y1="804" x2="390.1" y2="804.5" stroke="#3a3a3a" stroke-width="0.85"/>
<line x1="387.6" y1="804" x2="392.6" y2="804" stroke="#3a3a3a" stroke-width="0.85"/>
<rect x="384.60" y="804.50" width="11.00" height="35.80" fill="#000"/>
<line x1="412.15" y1="827.7" x2="412.15" y2="828.8" stroke="#3a3a3a" stroke-width="0.85"/>
<line x1="409.65" y1="827.7" x2="414.65" y2="827.7" stroke="#3a3a3a" stroke-width="0.85"/>
<rect x="407.00" y="829.30" width="10.30" height="11.00" fill="#fff" stroke="#2a2a2a" stroke-width="0.8"/>
<line x1="423.1" y1="806.6" x2="423.1" y2="816" stroke="#3a3a3a" stroke-width="0.85"/>
<line x1="420.6" y1="806.6" x2="425.6" y2="806.6" stroke="#3a3a3a" stroke-width="0.85"/>
<rect x="417.80" y="816.00" width="10.60" height="24.30" fill="#000"/>
<line x1="444.6" y1="827.4" x2="444.6" y2="831" stroke="#3a3a3a" stroke-width="0.85"/>
<line x1="442.1" y1="827.4" x2="447.1" y2="827.4" stroke="#3a3a3a" stroke-width="0.85"/>
<rect x="439.70" y="831.50" width="9.80" height="8.80" fill="#fff" stroke="#2a2a2a" stroke-width="0.8"/>
<line x1="455.6" y1="817" x2="455.6" y2="820" stroke="#3a3a3a" stroke-width="0.85"/>
<line x1="453.1" y1="817" x2="458.1" y2="817" stroke="#3a3a3a" stroke-width="0.85"/>
<rect x="450.00" y="820.00" width="11.20" height="20.30" fill="#000"/>
<line x1="477.5" y1="780.8" x2="477.5" y2="783" stroke="#3a3a3a" stroke-width="0.85"/>
<line x1="475.0" y1="780.8" x2="480.0" y2="780.8" stroke="#3a3a3a" stroke-width="0.85"/>
<rect x="472.50" y="783.50" width="10.00" height="56.80" fill="#fff" stroke="#2a2a2a" stroke-width="0.8"/>
<line x1="488.6" y1="765" x2="488.6" y2="772.7" stroke="#3a3a3a" stroke-width="0.85"/>
<line x1="486.1" y1="765" x2="491.1" y2="765" stroke="#3a3a3a" stroke-width="0.85"/>
<rect x="483.00" y="772.70" width="11.20" height="67.60" fill="#000"/>
<text x="0" y="0" font-size="13.6" text-anchor="middle" transform="translate(317.5 857.2) scale(1.06 1)" >1d</text>
<text x="0" y="0" font-size="13.6" text-anchor="middle" transform="translate(353 857.2) scale(1.06 1)" >2d</text>
<text x="0" y="0" font-size="13.6" text-anchor="middle" transform="translate(385.5 857.2) scale(1.06 1)" >3d</text>
<text x="0" y="0" font-size="13.6" text-anchor="middle" transform="translate(417.5 857.2) scale(1.06 1)" >4d</text>
<text x="0" y="0" font-size="13.6" text-anchor="middle" transform="translate(450 857.2) scale(1.06 1)" >5d</text>
<text x="0" y="0" font-size="13.6" text-anchor="start" transform="translate(466.8 857.2) scale(1.06 1)" >6d/MDC</text>
<line x1="303.7" y1="886.9" x2="303.7" y2="983.5" stroke="#000" stroke-width="1"/>
<line x1="303.2" y1="983" x2="499.0" y2="983" stroke="#333" stroke-width="0.9"/>
<line x1="299.2" y1="886.9" x2="303.7" y2="886.9" stroke="#000" stroke-width="1"/>
<text x="294" y="891.8" font-size="12.5" text-anchor="end" >0.5</text>
<line x1="299.2" y1="906.12" x2="303.7" y2="906.12" stroke="#000" stroke-width="1"/>
<text x="294" y="911.02" font-size="12.5" text-anchor="end" >0.4</text>
<line x1="299.2" y1="925.34" x2="303.7" y2="925.34" stroke="#000" stroke-width="1"/>
<text x="294" y="930.24" font-size="12.5" text-anchor="end" >0.3</text>
<line x1="299.2" y1="944.56" x2="303.7" y2="944.56" stroke="#000" stroke-width="1"/>
<text x="294" y="949.4599999999999" font-size="12.5" text-anchor="end" >0.2</text>
<line x1="299.2" y1="963.78" x2="303.7" y2="963.78" stroke="#000" stroke-width="1"/>
<text x="294" y="968.68" font-size="12.5" text-anchor="end" >0.1</text>
<line x1="299.2" y1="983.0" x2="303.7" y2="983.0" stroke="#000" stroke-width="1"/>
<text x="294" y="987.9" font-size="12.5" text-anchor="end" >0</text>
<text x="372" y="903.4" font-size="12.8" text-anchor="start" font-weight="bold" >CD300LF</text>
<text x="261.5" y="930.9" font-size="13" text-anchor="middle" transform="rotate(-90 261.5 930.9)" dy="4.65">normalized mRNA</text>
<rect x="309.00" y="979.00" width="9.50" height="4.00" fill="#fff" stroke="#2a2a2a" stroke-width="0.8"/>
<line x1="324.625" y1="963.6" x2="324.625" y2="964.1" stroke="#3a3a3a" stroke-width="0.85"/>
<line x1="322.125" y1="963.6" x2="327.125" y2="963.6" stroke="#3a3a3a" stroke-width="0.85"/>
<rect x="319.00" y="964.10" width="11.25" height="18.90" fill="#000"/>
<line x1="341.5" y1="981.6" x2="351.5" y2="981.6" stroke="#999" stroke-width="0.8"/>
<line x1="357.3" y1="966.3" x2="357.3" y2="967.3" stroke="#3a3a3a" stroke-width="0.85"/>
<line x1="354.8" y1="966.3" x2="359.8" y2="966.3" stroke="#3a3a3a" stroke-width="0.85"/>
<rect x="351.80" y="967.30" width="11.00" height="15.70" fill="#000"/>
<line x1="374.1" y1="981.6" x2="383.9" y2="981.6" stroke="#999" stroke-width="0.8"/>
<line x1="389.7" y1="965.2" x2="389.7" y2="968" stroke="#3a3a3a" stroke-width="0.85"/>
<line x1="387.2" y1="965.2" x2="392.2" y2="965.2" stroke="#3a3a3a" stroke-width="0.85"/>
<rect x="384.20" y="968.00" width="11.00" height="15.00" fill="#000"/>
<line x1="406.5" y1="981.8" x2="416.5" y2="981.8" stroke="#999" stroke-width="0.8"/>
<line x1="422.4" y1="972.2" x2="422.4" y2="972.7" stroke="#3a3a3a" stroke-width="0.85"/>
<line x1="419.9" y1="972.2" x2="424.9" y2="972.2" stroke="#3a3a3a" stroke-width="0.85"/>
<rect x="416.60" y="972.70" width="11.60" height="10.30" fill="#000"/>
<line x1="439.0" y1="981.8" x2="449.0" y2="981.8" stroke="#999" stroke-width="0.8"/>
<line x1="454.85" y1="972.5" x2="454.85" y2="973.4" stroke="#3a3a3a" stroke-width="0.85"/>
<line x1="452.35" y1="972.5" x2="457.35" y2="972.5" stroke="#3a3a3a" stroke-width="0.85"/>
<rect x="449.20" y="973.40" width="11.30" height="9.60" fill="#000"/>
<line x1="476.2" y1="977.5" x2="476.2" y2="978.5" stroke="#3a3a3a" stroke-width="0.85"/>
<line x1="473.7" y1="977.5" x2="478.7" y2="977.5" stroke="#3a3a3a" stroke-width="0.85"/>
<rect x="470.90" y="979.00" width="10.60" height="4.00" fill="#fff" stroke="#2a2a2a" stroke-width="0.8"/>
<line x1="487.5" y1="906.2" x2="487.5" y2="909.7" stroke="#3a3a3a" stroke-width="0.85"/>
<line x1="485.0" y1="906.2" x2="490.0" y2="906.2" stroke="#3a3a3a" stroke-width="0.85"/>
<rect x="482.00" y="909.70" width="11.00" height="73.30" fill="#000"/>
<text x="0" y="0" font-size="13.6" text-anchor="middle" transform="translate(316.5 1000.6) scale(1.06 1)" >1d</text>
<text x="0" y="0" font-size="13.6" text-anchor="middle" transform="translate(352 1000.6) scale(1.06 1)" >2d</text>
<text x="0" y="0" font-size="13.6" text-anchor="middle" transform="translate(384.7 1000.6) scale(1.06 1)" >3d</text>
<text x="0" y="0" font-size="13.6" text-anchor="middle" transform="translate(416.7 1000.6) scale(1.06 1)" >4d</text>
<text x="0" y="0" font-size="13.6" text-anchor="middle" transform="translate(449.3 1000.6) scale(1.06 1)" >5d</text>
<text x="0" y="0" font-size="13.6" text-anchor="start" transform="translate(466.0 1000.6) scale(1.06 1)" >6d/MDC</text>
<text x="348.5" y="1020.8" font-size="14.3" text-anchor="start" >time point of harvest</text>
<text x="308.3" y="1039.5" font-size="14.55" text-anchor="start" >after 24-hour-1,25-vitD-treatment</text>
</svg>
</body></html>
